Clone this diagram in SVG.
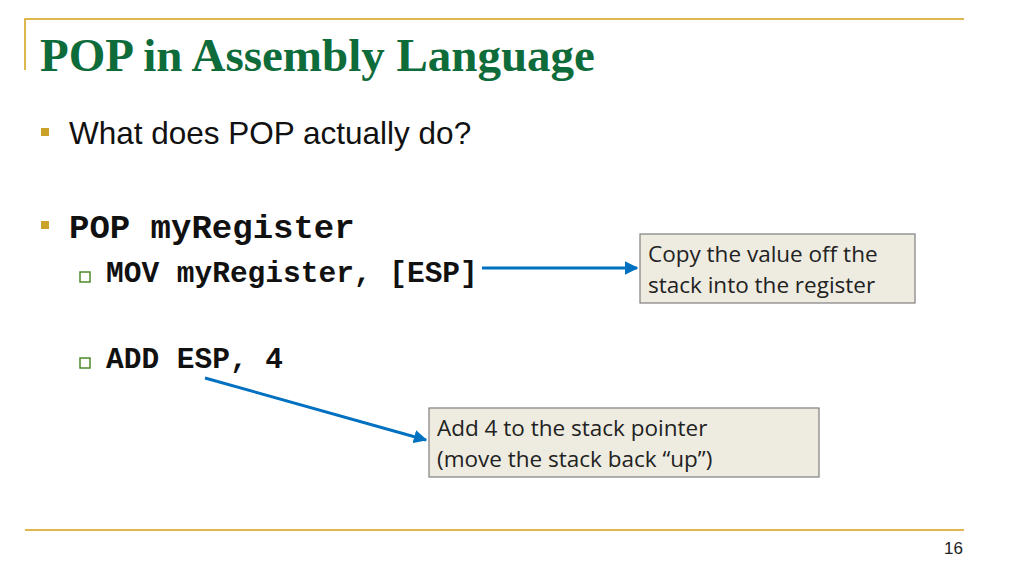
<svg xmlns="http://www.w3.org/2000/svg" width="1024" height="576" viewBox="0 0 1024 576">
<style>
.gold{stroke:#d4a017;stroke-width:1.5;fill:none}
.code{font-family:"Liberation Mono",monospace;font-weight:bold;font-size:29.5px;fill:#111}
.big{font-size:34px}
.box{fill:#eeece1;stroke:#7f7f7f;stroke-width:1.2}
.bt{font-family:"Open Sans","Noto Sans",sans-serif;font-size:22.5px;fill:#222}
.conn{stroke:#0070c0;stroke-width:3;fill:none;marker-end:url(#ah)}
</style>
<defs><marker id="ah" viewBox="0 0 10 10" refX="9" refY="5" markerWidth="4.5" markerHeight="4.5" orient="auto"><path d="M0,0L10,5L0,10z" fill="#0070c0"/></marker></defs>
<rect width="1024" height="576" fill="#fff"/>
<path class="gold" d="M25,70V19H964"/>
<path class="gold" d="M25,530H964"/>
<text x="40" y="71" font-family="Liberation Serif,serif" font-weight="bold" font-size="47" fill="#0e6b3a">POP in Assembly Language</text>
<rect x="41" y="128" width="8" height="8" fill="#c9a227"/>
<text x="69" y="144" font-family="Liberation Sans,Arial,sans-serif" font-size="31.5" fill="#111">What does POP actually do?</text>
<rect x="41" y="221" width="8" height="8" fill="#c9a227"/>
<text x="69" y="238" class="code big">POP myRegister</text>
<rect x="80" y="272" width="10" height="10" fill="none" stroke="#4f8a2a" stroke-width="1.5"/>
<text x="106" y="282" class="code">MOV myRegister, [ESP]</text>
<rect x="80" y="358" width="10" height="10" fill="none" stroke="#4f8a2a" stroke-width="1.5"/>
<text x="106" y="368" class="code">ADD ESP, 4</text>
<g id="conns">
<path class="conn" d="M482,268H637"/>
<path class="conn" d="M205,378L426,440"/>
</g>
<g id="box1"><rect class="box" x="640" y="234" width="275" height="69"/>
<text class="bt" x="648" y="262">Copy the value off the</text>
<text class="bt" x="648" y="293">stack into the register</text></g>
<g id="box2"><rect class="box" x="429" y="408" width="390" height="69"/>
<text class="bt" x="437" y="436">Add 4 to the stack pointer</text>
<text class="bt" x="437" y="467">(move the stack back “up”)</text></g>
<text x="944" y="554" font-family="Liberation Sans,Arial,sans-serif" font-size="17" fill="#222">16</text>
</svg>
